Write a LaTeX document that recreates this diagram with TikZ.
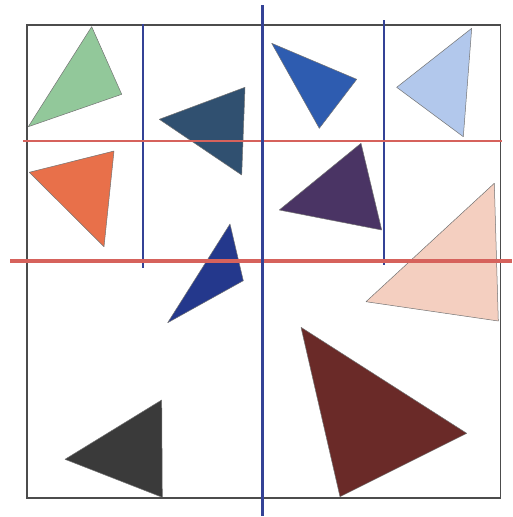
\documentclass[tikz,border=0pt]{standalone}
\begin{document}
\begin{tikzpicture}[x=1pt,y=-1pt,
  tri/.style={draw=black!55,line width=0.5pt,line join=round},
  redline/.style={draw={rgb,255:red,214;green,98;blue,92},line width=2.2pt},
  blueline/.style={draw={rgb,255:red,52;green,66;blue,150},line width=2pt},
  frame/.style={draw=black!70,line width=1.3pt}]
\useasboundingbox (0,0) rectangle (512,517);
\fill[white] (0,0) rectangle (512,517);
% triangles
\definecolor{cgreen}{RGB}{146,200,154}
\definecolor{cteal}{RGB}{48,80,112}
\definecolor{corange}{RGB}{232,112,74}
\definecolor{cbluemid}{RGB}{36,56,140}
\definecolor{cgrey}{RGB}{58,58,58}
\definecolor{cbluetop}{RGB}{46,92,176}
\definecolor{clight}{RGB}{178,200,236}
\definecolor{cpurple}{RGB}{74,52,100}
\definecolor{cpink}{RGB}{244,207,192}
\definecolor{cbrown}{RGB}{106,42,40}
\filldraw[tri,fill=cgreen] (91.7,26.7) -- (121.7,94.3) -- (28.3,126.7) -- cycle;
\filldraw[tri,fill=corange] (29.3,172.3) -- (114,151) -- (104,246.7) -- cycle;
\filldraw[tri,fill=cbluetop] (271.7,43.3) -- (356.7,79.3) -- (319.3,128.3) -- cycle;
\filldraw[tri,fill=clight] (471.7,28.3) -- (396.7,87.3) -- (463.3,136.7) -- cycle;
\filldraw[tri,fill=cpink] (494.3,183.3) -- (366,301.7) -- (498.3,321) -- cycle;
\filldraw[tri,fill=cbrown] (301,327.3) -- (466.7,433.3) -- (340,496.7) -- cycle;
\filldraw[tri,fill=cgrey] (65,459.3) -- (161.7,400) -- (162.3,497.3) -- cycle;
\filldraw[tri,fill=cteal] (159.3,119.3) -- (245,87.3) -- (241.7,175) -- cycle;
\filldraw[tri,fill=cpurple] (361,143.3) -- (381.7,230) -- (279.3,210) -- cycle;
\filldraw[tri,fill=cbluemid] (230,224) -- (243.3,280.7) -- (167.7,322.7) -- cycle;
% frame
\draw[frame] (27,25) rectangle (500.7,498);
% blue verticals
\draw[blueline] (142.7,24) -- (142.7,268);
\draw[blueline] (384.3,20) -- (384.3,265);
% red lines
\draw[redline] (23,141) -- (501.7,141);
\draw[redline,line width=3.2pt] (10,261) -- (512,261);
\draw[blueline,line width=2.8pt] (262.3,5) -- (262.3,516);
\end{tikzpicture}
\end{document}
